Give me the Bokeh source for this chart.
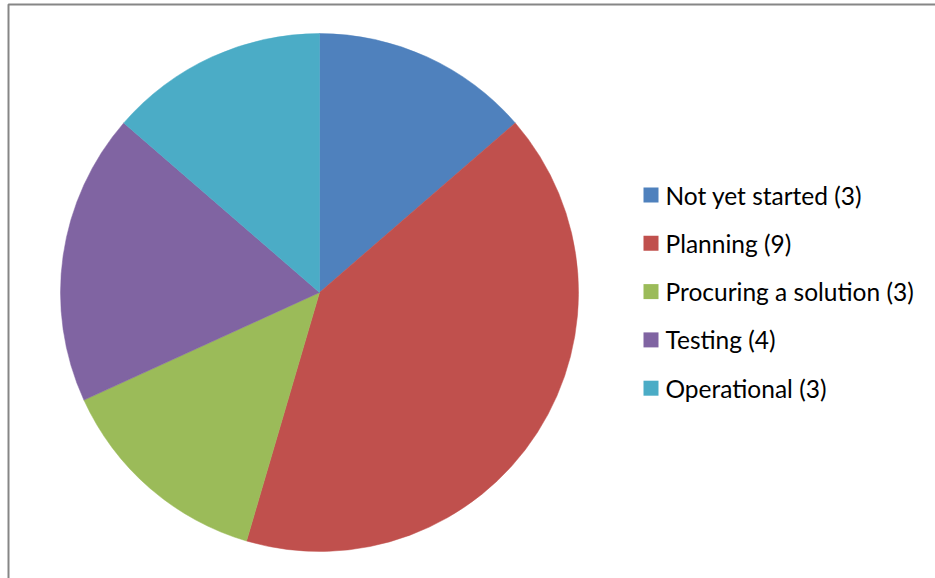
import numpy as np
from bokeh.plotting import figure
from bokeh.models import Range1d, ColumnDataSource
from bokeh.core.properties import value
from bokeh.embed import file_html
from bokeh.resources import INLINE

categories = ["Not yet started", "Planning", "Procuring a solution", "Testing", "Operational"]
counts = [3, 9, 3, 4, 3]
colors = ["#4F81BD", "#C0504D", "#9BBB59", "#8064A2", "#4BACC6"]

W, H = 935, 578
p = figure(width=W, height=H, output_backend="svg", toolbar_location=None,
           x_range=Range1d(0, W), y_range=Range1d(0, H), min_border=0)
p.axis.visible = False
p.grid.visible = False
p.outline_line_color = None
p.background_fill_color = "white"
p.border_fill_color = "white"

vals = np.array(counts, dtype=float)
frac = vals / vals.sum()
cum = np.concatenate([[0], np.cumsum(frac)])
start = np.pi / 2 - cum[1:] * 2 * np.pi
end = np.pi / 2 - cum[:-1] * 2 * np.pi

cx, cy, r = 319, H - 292, 259
src = ColumnDataSource(dict(start=start, end=end, color=colors))
p.wedge(x=cx, y=cy, radius=r, start_angle="start", end_angle="end",
        fill_color="color", line_color="color", line_width=0.5, source=src)

# legend
ly = [H - (194.5 + 48.3 * i) for i in range(len(categories))]
labels = [f"{c} ({n})" for c, n in zip(categories, counts)]
lsrc = ColumnDataSource(dict(y=ly, color=colors, label=labels))
p.rect(x=650.5, y="y", width=15, height=15, fill_color="color", line_color=None, source=lsrc)
p.text(x=665, y="y", text="label", text_font=value("Lato"), text_font_size="24.5px",
       text_baseline="middle", text_color="black", source=lsrc)

# chart frame
p.line(x=[8, 8, W + 5], y=[-5, H - 4, H - 4], line_color="#868686", line_width=2)

open("out.html", "w").write(file_html(p, INLINE))
